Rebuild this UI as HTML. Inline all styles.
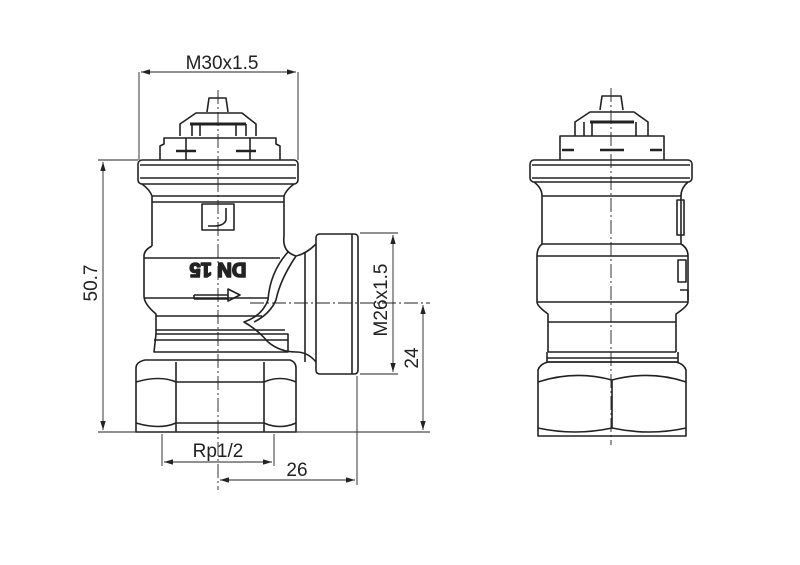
<!DOCTYPE html>
<html><head><meta charset="utf-8"><style>
html,body{margin:0;padding:0;background:#fff;width:800px;height:565px;overflow:hidden}
svg{display:block}
text{font-family:"Liberation Sans",sans-serif;font-size:19px;fill:#222}
</style></head><body>
<svg width="800" height="565" viewBox="0 0 800 565" fill="none" stroke="#222" stroke-width="1.6" stroke-linejoin="round">
<defs>
<marker id="a" viewBox="0 0 10 6" refX="10" refY="3" markerWidth="10" markerHeight="6" orient="auto-start-reverse"><path d="M0 0L10 3L0 6z" fill="#222" stroke="none"/></marker>
</defs>
<!-- LEFT VALVE -->
<g>
<!-- pin & crown -->
<path d="M207 112 L209 98 L226 98 L228 112"/>
<path d="M180 136 L180 124 L196 113 L242 113 L256 124 L256 136"/>
<path d="M190 124 L246 124" stroke-width="3"/>
<path d="M192 136V124 M200 136V124 M236 136V124 M246 136V124"/>
<!-- upper knob -->
<path d="M160 160 V146 L164 144 V138 H276 V144 L280 146 V160"/>
<path d="M186 138V160 M250 138V160"/>
<path d="M176 151 L196 151 M236 151 L256 151" stroke-width="2.5"/>
<!-- cap -->
<rect x="138" y="160" width="160" height="24" rx="4"/>
<path d="M140 165 H296 M140 178 H296"/>
<!-- neck & upper body -->
<path d="M142 184 Q150 190 152 196 V246 M294 184 Q286 190 284 196 V236"/>
<path d="M152 196 H284 M152 202 H284"/>
<path d="M152 246 Q144 250 144 256 V296 Q144 304 156 314 V334 M284 236"/>
<path d="M144 258 H280 M144 298 H268"/>
<path d="M156 316 H262 M156 330 H285"/>
<path d="M156 334 H288 V352 H154 Z"/>
<path d="M154 340 H288"/>
<!-- side neck curves -->
<path d="M284 236 Q282 252 296 256 Q306 254 316 244"/>
<path d="M288 252 Q270 272 268 300 Q262 316 244 322 Q258 330 268 342 Q280 352 296 352 Q308 352 316 362"/>
<path d="M296 256 Q280 280 276 300 Q270 314 254 322"/>
<path d="M305 252 V362"/>
<!-- port -->
<path d="M316 238 Q316 234 320 234 H354 Q358 234 358 238 V370 Q358 374 354 374 H320 Q316 374 316 370 Z"/>
<path d="M352 234 V374"/>
<!-- hex nut -->
<path d="M136 368 Q136 362 145 360 H290 Q296 362 296 368 V432 H136 Z"/>
<path d="M136 382 Q160 375 176 382 H264 Q280 375 296 382"/>
<path d="M136 423 Q160 430 176 423 H264 Q280 430 296 423"/>
<path d="M176 362 V432 M264 362 V432"/>
<!-- logo -->
<rect x="202" y="204" width="32" height="26"/>
<path d="M226 208 V220 Q224 226 214 226 H208"/>
<text x="218" y="277" text-anchor="middle" transform="rotate(180 218 270)" style="font-weight:bold;font-size:20px">DN 15</text>
<path d="M194 295 H228 M228 289 L240 295 L228 301 Z M194 299 H228 M194 295 V299"/>
<!-- centerlines -->
<path d="M218 90 V490" stroke-width="0.9" stroke-dasharray="14 3 2 3"/>
<path d="M250 303 H430" stroke-width="0.9" stroke-dasharray="14 3 2 3"/>
</g>
<!-- dims left -->
<g stroke-width="0.9">
<path d="M139 72 V160 M298 72 V160"/>
<path d="M141 72 H296" marker-start="url(#a)" marker-end="url(#a)"/>
<path d="M98 160 H138 M98 432 H430 M360 233 H398 M360 374 H398"/>
<path d="M103 162 V430" marker-start="url(#a)" marker-end="url(#a)"/>
<path d="M393 235 V372" marker-start="url(#a)" marker-end="url(#a)"/>
<path d="M423 305 V430" marker-start="url(#a)" marker-end="url(#a)"/>
<path d="M162 434 V466 M274 434 V466 M357 376 V485"/>
<path d="M164 462 H272" marker-start="url(#a)" marker-end="url(#a)"/>
<path d="M220 480 H355" marker-start="url(#a)" marker-end="url(#a)"/>
</g>
<g stroke="none">
<text x="222" y="69" text-anchor="middle">M30x1.5</text>
<text x="0" y="0" text-anchor="middle" transform="translate(97 283) rotate(-90)">50.7</text>
<text x="0" y="0" text-anchor="middle" transform="translate(387 300) rotate(-90)">M26x1.5</text>
<text x="0" y="0" text-anchor="middle" transform="translate(418 358) rotate(-90)">24</text>
<text x="218" y="457" text-anchor="middle">Rp1/2</text>
<text x="297" y="476" text-anchor="middle">26</text>
</g>
<!-- RIGHT VALVE -->
<g>
<path d="M600 110 L602 96 L621 96 L623 110"/>
<path d="M575 136 V122 L590 112 L634 112 L648 122 V136"/>
<path d="M590 122 L634 122" stroke-width="3"/>
<path d="M584 136V122 M592 136V122 M636 136V122"/>
<path d="M560 160 V136 H664 V160"/>
<path d="M562 150 H574 M600 150 H624 M650 150 H662" stroke-width="2.5"/>
<rect x="530" y="160" width="162" height="22" rx="4"/>
<path d="M532 165 H690 M532 178 H690"/>
<path d="M534 182 Q542 188 542 196 V244 M688 182 Q681 188 681 196 V244"/>
<path d="M542 196 H681 M542 244 H681"/>
<path d="M542 244 Q537 248 537 256 V302 Q537 306 548 314 V352 M681 244 Q688 248 688 256 V302 Q688 306 676 314 V352"/>
<path d="M537 256 H688 M537 302 H688 M548 322 H676 M548 352 H676"/>
<path d="M547 352 V362 H678 V352 M547 358 H678"/>
<path d="M538 370 Q540 364 548 362 H676 Q684 364 686 370 V436 H538 Z"/>
<path d="M538 382 Q575 370 612 380 Q650 370 686 382"/>
<path d="M538 428 Q575 436 612 428 Q650 436 686 428"/>
<path d="M612 380 V428"/>
<path d="M677 200 V235 H684 V200 Z M678 260 H686 V282 H678 Z M680 290 H688 V300"/>
<path d="M611 88 V445" stroke-width="0.9" stroke-dasharray="14 3 2 3"/>
</g>
</svg>
</body></html>
